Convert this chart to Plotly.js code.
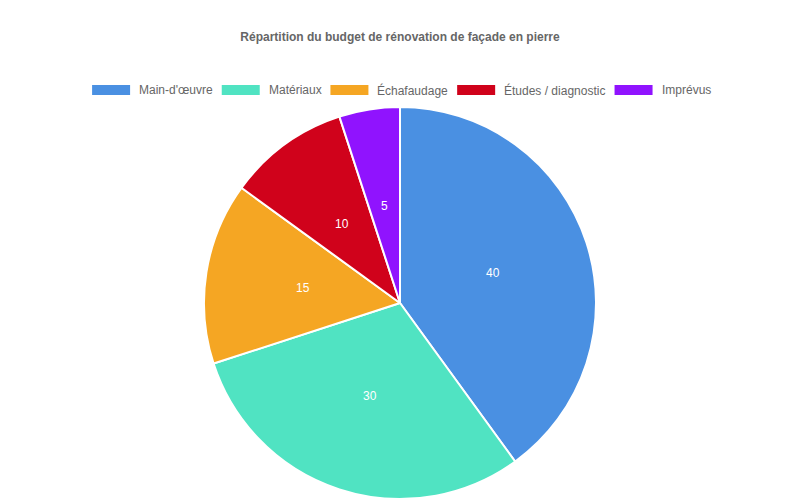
<!DOCTYPE html>
<html>
<head>
<meta charset="utf-8">
<script src="https://cdn.plot.ly/plotly-3.0.1.min.js"></script>
<style>
  html, body { margin: 0; padding: 0; background: #fff; }
  #chart { width: 800px; height: 500px; }
</style>
</head>
<body>
<div id="chart"></div>
<script>
// postes du budget et parts (%)
var postes = ["Main-d'œuvre", 'Matériaux', 'Échafaudage', 'Études / diagnostic', 'Imprévus'];
var parts = [40, 30, 15, 10, 5];
var couleurs = ['#4A90E2', '#50E3C2', '#F5A623', '#D0021B', '#9013FE'];

var W = 800, H = 500;
var margeHaut = 107, margeBas = 1;
var hautTrace = H - margeHaut - margeBas;   // hauteur de la zone du camembert
var police = 'Liberation Sans, Arial, sans-serif';

// conversion pixels -> coordonnées "paper"
function px(x) { return x / W; }
function py(y) { return (H - margeBas - y) / hautTrace; }

var trace = {
    type: 'pie',
    labels: postes,
    values: parts,
    sort: false,
    direction: 'clockwise',
    rotation: 0,
    marker: {
        colors: couleurs,
        line: { color: '#ffffff', width: 2 }
    },
    textinfo: 'none',
    hoverinfo: 'label+value',
    showlegend: false
};

var annotations = [];
var shapes = [];

// valeurs au milieu de chaque part (à mi-rayon, comme Chart.js)
var total = parts.reduce(function (a, b) { return a + b; }, 0);
var cx = W / 2, cy = margeHaut + hautTrace / 2, rayon = hautTrace / 2;
var cumul = 0;
for (var i = 0; i < parts.length; i++) {
    var angle = (cumul + parts[i] / 2) / total * 2 * Math.PI;
    cumul += parts[i];
    annotations.push({
        xref: 'paper', yref: 'paper',
        x: px(cx + Math.sin(angle) * rayon / 2),
        y: py(cy - Math.cos(angle) * rayon / 2),
        xanchor: 'center', yanchor: 'middle',
        text: String(parts[i]),
        showarrow: false,
        font: { color: '#ffffff', size: 12, family: police }
    });
}

// légende façon Chart.js : boîte 40x12 + libellé
var ctx = document.createElement('canvas').getContext('2d');
ctx.font = '12px "Liberation Sans", Arial, sans-serif';
var largeurs = postes.map(function (p) { return ctx.measureText(p).width; });
var largeurTotale = 0;
largeurs.forEach(function (l, k) { largeurTotale += 46 + l + (k > 0 ? 10 : 0); });
var xLeg = W / 2 - largeurTotale / 2, yLeg = 90;
for (var j = 0; j < postes.length; j++) {
    shapes.push({
        type: 'rect', xref: 'paper', yref: 'paper',
        x0: px(xLeg), x1: px(xLeg + 40),
        y0: py(yLeg - 6), y1: py(yLeg + 6),
        fillcolor: couleurs[j],
        line: { color: '#ffffff', width: 2 }
    });
    annotations.push({
        xref: 'paper', yref: 'paper',
        x: px(xLeg + 46), y: py(yLeg),
        xanchor: 'left', yanchor: 'middle',
        text: postes[j],
        showarrow: false,
        font: { color: '#666666', size: 12, family: police }
    });
    xLeg += 46 + largeurs[j] + 10;
}

var layout = {
    width: W,
    height: H,
    font: { family: police, color: '#666666', size: 12 },
    title: {
        text: '<b>Répartition du budget de rénovation de façade en pierre</b>',
        font: { size: 12, color: '#666666' },
        x: 0.5,
        xanchor: 'center',
        yref: 'container',
        y: 1 - 37 / H,
        yanchor: 'middle'
    },
    showlegend: false,
    annotations: annotations,
    shapes: shapes,
    margin: { t: margeHaut, b: margeBas, l: 0, r: 0, pad: 0 },
    paper_bgcolor: '#ffffff',
    plot_bgcolor: '#ffffff'
};

Plotly.newPlot('chart', [trace], layout, { displayModeBar: false, staticPlot: true });
</script>
</body>
</html>
